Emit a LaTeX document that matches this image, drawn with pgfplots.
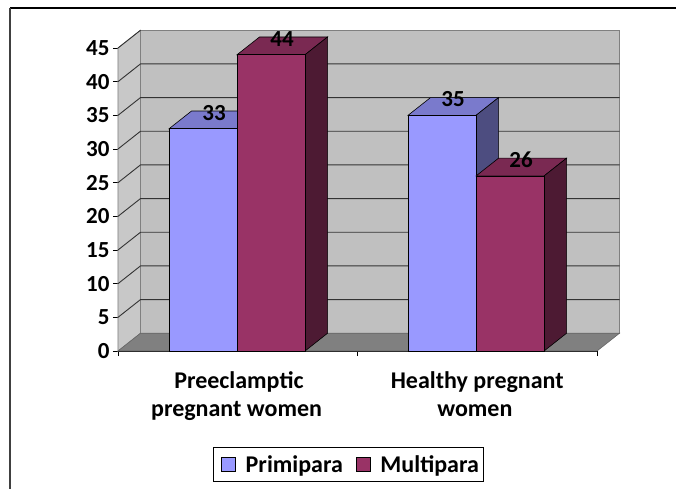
\documentclass[border=0pt]{standalone}
\usepackage{pgfplots}
\pgfplotsset{compat=1.18}
\usepackage{fontspec}
\setmainfont{Carlito}
\definecolor{primi}{HTML}{9999FF}
\definecolor{primitop}{HTML}{7A7ACC}
\definecolor{primiside}{HTML}{4D4D80}
\definecolor{multi}{HTML}{993366}
\definecolor{multitop}{HTML}{7A2952}
\definecolor{multiside}{HTML}{4D1A33}
\definecolor{wall}{HTML}{C0C0C0}
\definecolor{sidewall}{HTML}{C8C8C8}
\definecolor{floorc}{HTML}{808080}
\definecolor{gridc}{HTML}{333333}
\begin{document}
\begin{tikzpicture}
\useasboundingbox (-118bp,-138bp) rectangle (558bp,351bp);
\draw[black, line width=1.5bp] (-108bp,343bp) -- (560bp,343bp);
\draw[black!75, line width=2bp] (-108bp,343bp) -- (-108bp,-140bp);
\begin{axis}[
  at={(0,0)}, anchor=south west,
  scale only axis, width=479bp, height=303bp,
  xmin=0, xmax=2, ymin=0, ymax=45,
  clip=false,
  axis x line*=bottom, axis y line*=left,
  axis line style={-, black, line width=0.8bp},
  xtick={0,1,2}, xticklabels={},
  ytick={0,5,...,45},
  tick align=outside, major tick length=5bp,
  tick style={black, line width=0.8bp},
  yticklabel style={font=\bfseries\fontsize{23bp}{27bp}\selectfont},
  /pgf/number format/assume math mode=true,
  every node near coord/.append style={anchor=center, xshift=11bp, yshift=16bp, font=\bfseries\fontsize{23bp}{27bp}\selectfont},
  legend columns=2,
  legend style={at={(axis cs:0.9624,-16.86)}, anchor=center, draw=black, line width=0.8bp,
    font=\bfseries\fontsize{24bp}{28bp}\selectfont, inner xsep=3bp, inner ysep=6bp,
    /tikz/every even column/.append style={column sep=6bp}},
]
% walls and floor
\addplot[fill=sidewall, draw=gray, line width=0.6bp, forget plot] coordinates {(0,0) (0.094,2.64) (0.094,47.64) (0,45)} -- cycle;
\addplot[fill=wall, draw=gray, line width=0.6bp, forget plot] coordinates {(0.094,2.64) (2.094,2.64) (2.094,47.64) (0.094,47.64)} -- cycle;
\addplot[fill=floorc, draw=gray!80!black, line width=0.6bp, forget plot] coordinates {(0,0) (2,0) (2.094,2.64) (0.094,2.64)} -- cycle;
% grid lines
\addplot[gridc, line width=0.9bp, forget plot] coordinates {(0,5) (0.094,7.64) (2.094,7.64)};
\addplot[gridc, line width=0.9bp, forget plot] coordinates {(0,10) (0.094,12.64) (2.094,12.64)};
\addplot[gridc, line width=0.9bp, forget plot] coordinates {(0,15) (0.094,17.64) (2.094,17.64)};
\addplot[gridc, line width=0.9bp, forget plot] coordinates {(0,20) (0.094,22.64) (2.094,22.64)};
\addplot[gridc, line width=0.9bp, forget plot] coordinates {(0,25) (0.094,27.64) (2.094,27.64)};
\addplot[gridc, line width=0.9bp, forget plot] coordinates {(0,30) (0.094,32.64) (2.094,32.64)};
\addplot[gridc, line width=0.9bp, forget plot] coordinates {(0,35) (0.094,37.64) (2.094,37.64)};
\addplot[gridc, line width=0.9bp, forget plot] coordinates {(0,40) (0.094,42.64) (2.094,42.64)};
\addplot[gridc, line width=0.9bp, forget plot] coordinates {(0,45) (0.094,47.64)};
% Primipara: top and side faces, then front
\addplot[fill=primitop, draw=black, line width=0.6bp, forget plot] coordinates {(0.213,33) (0.497,33) (0.591,35.64) (0.307,35.64)} -- cycle;
\addplot[fill=primiside, draw=black, line width=0.6bp, forget plot] coordinates {(0.497,0) (0.591,2.64) (0.591,35.64) (0.497,33)} -- cycle;
\addplot[fill=primitop, draw=black, line width=0.6bp, forget plot] coordinates {(1.211,35) (1.495,35) (1.589,37.64) (1.305,37.64)} -- cycle;
\addplot[fill=primiside, draw=black, line width=0.6bp, forget plot] coordinates {(1.495,0) (1.589,2.64) (1.589,37.64) (1.495,35)} -- cycle;
\addplot[ybar, bar width=0.284, bar shift=0pt, fill=primi, draw=black, line width=0.6bp,
  nodes near coords,
  legend image code/.code={\draw[fill=primi, draw=black, line width=0.6bp] (0bp,-7bp) rectangle (14bp,7bp); \path (-5bp,0bp) (22bp,0bp);}]
  coordinates {(0.355,33) (1.353,35)};
\addlegendentry{Primipara}
% Multipara
\addplot[fill=multitop, draw=black, line width=0.6bp, forget plot] coordinates {(0.497,44) (0.781,44) (0.875,46.64) (0.591,46.64)} -- cycle;
\addplot[fill=multiside, draw=black, line width=0.6bp, forget plot] coordinates {(0.781,0) (0.875,2.64) (0.875,46.64) (0.781,44)} -- cycle;
\addplot[fill=multitop, draw=black, line width=0.6bp, forget plot] coordinates {(1.495,26) (1.779,26) (1.873,28.64) (1.589,28.64)} -- cycle;
\addplot[fill=multiside, draw=black, line width=0.6bp, forget plot] coordinates {(1.779,0) (1.873,2.64) (1.873,28.64) (1.779,26)} -- cycle;
\addplot[ybar, bar width=0.284, bar shift=0pt, fill=multi, draw=black, line width=0.6bp,
  nodes near coords,
  legend image code/.code={\draw[fill=multi, draw=black, line width=0.6bp] (0bp,-7bp) rectangle (14bp,7bp); \path (-5bp,0bp) (22bp,0bp);}]
  coordinates {(0.639,44) (1.637,26)};
\addlegendentry{Multipara}
% category labels
\node[anchor=base, font=\bfseries\fontsize{24bp}{28bp}\selectfont] at (axis cs:0.505,-5.5) {Preeclamptic};
\node[anchor=base, font=\bfseries\fontsize{24bp}{28bp}\selectfont] at (axis cs:0.495,-9.8) {pregnant women};
\node[anchor=base, font=\bfseries\fontsize{24bp}{28bp}\selectfont] at (axis cs:1.5,-5.5) {Healthy pregnant};
\node[anchor=base, font=\bfseries\fontsize{24bp}{28bp}\selectfont] at (axis cs:1.49,-9.8) {women};
\end{axis}
\end{tikzpicture}
\end{document}
